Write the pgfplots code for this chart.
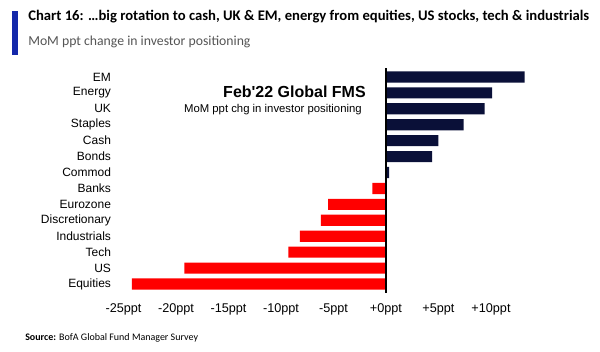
\documentclass[border=0pt]{standalone}
\usepackage{pgfplots}
\pgfplotsset{compat=1.18}
\usepackage{fontspec}
\setmainfont{Liberation Sans}
\newfontfamily\arialplain{Liberation Sans}
\newfontfamily\carlito{Carlito}
\definecolor{navy}{RGB}{10,16,56}
\definecolor{fmsred}{RGB}{255,0,0}
\definecolor{titleblue}{RGB}{20,40,170}
\definecolor{subgray}{RGB}{85,85,85}
\pgfplotstableread{
y v
0 -24.2
1 -19.2
2 -9.3
3 -8.2
4 -6.2
5 -5.5
6 -1.3
}\negdata
\pgfplotstableread{
y v
7 0.3
8 4.4
9 5.0
10 7.4
11 9.4
12 10.1
13 13.2
}\posdata
\begin{document}
\begin{tikzpicture}[x=0.75pt,y=0.75pt]
\useasboundingbox (0,0) rectangle (600,352);
\fill[white] (0,0) rectangle (600,352);
% title block
\fill[titleblue] (12,297) rectangle (18,341);
\node[anchor=west,inner sep=0pt,font=\carlito\bfseries\fontsize{11pt}{13pt}\selectfont] at (28,335) {Chart 16: \dots big rotation to cash, UK \& EM, energy from equities, US stocks, tech \& industrials};
\node[anchor=west,inner sep=0pt,text=subgray,font=\carlito\fontsize{10.3pt}{12pt}\selectfont] at (28,310) {MoM ppt change in investor positioning};
\node[anchor=west,inner sep=0pt,font=\carlito\fontsize{7.5pt}{8pt}\selectfont] at (25,14) {\textbf{Source:} BofA Global Fund Manager Survey};
\begin{axis}[
  at={(84.75pt,45pt)}, anchor=south west,
  scale only axis, width=322.875pt, height=167.25pt,
  xmin=-26, xmax=15, ymin=-0.5, ymax=13.5,
  axis line style={draw=none},
  xbar, bar width=0.7, bar shift=0pt,
  xtick={-25,-20,-15,-10,-5,0,5,10},
  xticklabels={-25ppt,-20ppt,-15ppt,-10ppt,-5ppt,+0ppt,+5ppt,+10ppt},
  ytick={0,...,13},
  yticklabels={Equities,US,Tech,Industrials,Discretionary,Eurozone,Banks,Commod,Bonds,Cash,Staples,UK,Energy,EM},
  major tick length=0pt,
  yticklabel style={font=\fontsize{9pt}{10pt}\selectfont, xshift=2pt},
  xticklabel style={font=\fontsize{9.5pt}{10pt}\selectfont, yshift=-5pt},
  clip=false,
]
\addplot[draw=none, fill=fmsred] table[x=v,y=y] {\negdata};
\addplot[draw=none, fill=navy] table[x=v,y=y] {\posdata};
\draw[black, line width=1pt] (axis cs:0,-0.55) -- (axis cs:0,13.55);
\end{axis}
\node[anchor=east,inner sep=0pt,font=\arialplain\bfseries\fontsize{12pt}{13pt}\selectfont] at (366,260) {Feb'22 Global FMS};
\node[anchor=east,inner sep=0pt,font=\arialplain\fontsize{8.5pt}{10pt}\selectfont] at (362,242) {MoM ppt chg in investor positioning};
\end{tikzpicture}
\end{document}
